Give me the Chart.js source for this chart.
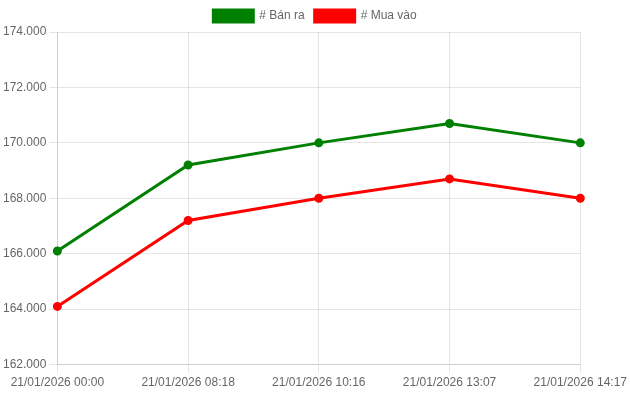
<!DOCTYPE html>
<html>
<head>
<meta charset="utf-8">
<script src="https://cdn.jsdelivr.net/npm/chart.js@4/dist/chart.umd.min.js"></script>
<style>
html,body{margin:0;padding:0;background:#fff;}
#wrap{width:630px;height:393px;position:relative;}
</style>
</head>
<body>
<div id="wrap"><canvas id="c"></canvas></div>
<script>
const categories = ["21/01/2026 00:00","21/01/2026 08:18","21/01/2026 10:16","21/01/2026 13:07","21/01/2026 14:17"];
const banRa = [166100, 169200, 170000, 170700, 170000];
const muaVao = [164100, 167200, 168000, 168700, 168000];
const seriesNames = ["# Bán ra", "# Mua vào"];

Chart.defaults.font.family = "'Liberation Sans', Arial, Helvetica, sans-serif";
Chart.defaults.font.size = 12;
Chart.defaults.color = "#666";

new Chart(document.getElementById('c'), {
  type: 'line',
  data: {
    labels: categories,
    datasets: [
      {label: seriesNames[0], data: banRa, borderColor: '#008000', backgroundColor: '#008000', borderWidth: 3, pointRadius: 3, pointHoverRadius: 4, tension: 0},
      {label: seriesNames[1], data: muaVao, borderColor: '#ff0000', backgroundColor: '#ff0000', borderWidth: 3, pointRadius: 3, pointHoverRadius: 4, tension: 0}
    ]
  },
  options: {
    responsive: true,
    maintainAspectRatio: false,
    animation: false,
    plugins: {
      tooltip: {enabled: false}
    },
    scales: {
      x: {ticks: {maxRotation: 0, autoSkip: false}},
      y: {
        min: 162000, max: 174000,
        ticks: {stepSize: 2000, callback: v => v.toLocaleString('de-DE')}
      }
    }
  }
});
</script>
</body>
</html>
